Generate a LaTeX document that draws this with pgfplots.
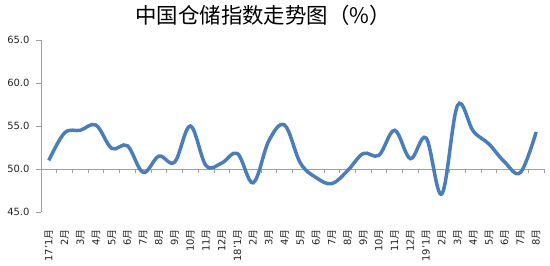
\documentclass[border=0pt]{standalone}
\usepackage{fontspec}
\setmainfont{DejaVu Sans}
\newfontfamily\cjk{Noto Sans CJK SC}
\usepackage{pgfplots}
\pgfplotsset{compat=1.18}
\definecolor{lineblue}{RGB}{74,126,187}
\definecolor{axgray}{RGB}{160,160,160}
\newcommand{\yue}{{\cjk 月}}
\begin{document}
\begin{tikzpicture}
\path[use as bounding box] (-41bp,-54bp) rectangle (509bp,212bp);
\begin{axis}[
  at={(0,0)}, anchor=south west,
  scale only axis, width=503bp, height=172bp,
  xmin=-0.5, xmax=31.5, ymin=45, ymax=65,
  axis y line*=left, axis x line*=bottom,
  x axis line style={draw=none},
  y axis line style={axgray, line width=0.8bp},
  ytick={45,50,...,65},
  yticklabel style={/pgf/number format/fixed, /pgf/number format/precision=1, /pgf/number format/fixed zerofill, font=\fontsize{10}{11}\selectfont, text=black!85, xshift=-3bp},
  /pgf/number format/assume math mode=true,
  tick align=outside,
  major tick length=5bp,
  ytick style={axgray, line width=0.8bp},
  xtick={0,...,31},
  xtick style={draw=none},
  xticklabels={17'1\yue,2\yue,3\yue,4\yue,5\yue,6\yue,7\yue,8\yue,9\yue,10\yue,11\yue,12\yue,18'1\yue,2\yue,3\yue,4\yue,5\yue,6\yue,7\yue,8\yue,9\yue,10\yue,11\yue,12\yue,19'1\yue,2\yue,3\yue,4\yue,5\yue,6\yue,7\yue,8\yue},
  xticklabel style={rotate=90, anchor=east, font=\fontsize{10}{11}\selectfont, text=black!85, inner sep=1bp, xshift=-11bp},
  clip=false,
]
\draw[axgray, line width=0.8bp] (axis cs:-0.5,50) -- (axis cs:31.5,50);
\pgfplotsinvokeforeach{0,...,32}{
  \draw[axgray, line width=0.8bp] (axis cs:{#1-0.5},50) -- (axis cs:{#1-0.5},49.53);
}
\addplot[lineblue, line width=3.5bp, smooth, tension=0.6, no marks] coordinates {
(0,51.0) (1,54.2) (2,54.5) (3,55.1) (4,52.4) (5,52.7) (6,49.6) (7,51.5)
(8,50.8) (9,55.0) (10,50.4) (11,50.7) (12,51.8) (13,48.4) (14,53.3) (15,55.1)
(16,50.7) (17,49.0) (18,48.3) (19,49.8) (20,51.8) (21,51.6) (22,54.5) (23,51.2)
(24,53.6) (25,47.1) (26,57.4) (27,54.4) (28,52.9) (29,50.8) (30,49.6) (31,54.3)
};
\end{axis}
\node[font=\cjk\fontsize{21.5}{23}\selectfont] at (222bp,197bp) {中国仓储指数走势图（\%）};
\end{tikzpicture}
\end{document}
